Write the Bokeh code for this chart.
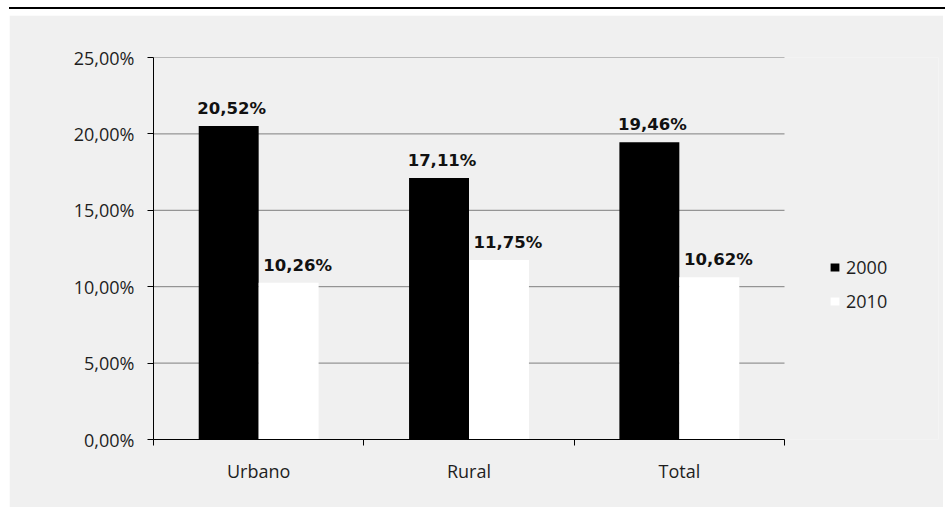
from bokeh.plotting import figure
from bokeh.models import (ColumnDataSource, FixedTicker, LinearAxis, Range1d,
                          Legend, LegendItem, Div, LabelSet)
from bokeh.core.properties import value
from bokeh.layouts import column
from bokeh.transform import dodge
from bokeh.embed import file_html
from bokeh.resources import INLINE

categories = ["Urbano", "Rural", "Total"]
series = ["2000", "2010"]
v2000 = [20.52, 17.11, 19.46]
v2010 = [10.26, 11.75, 10.62]
y_ticks = [0, 5, 10, 15, 20, 25]

def pct(v):
    return f"{v:.2f}".replace(".", ",") + "%"

n = len(categories)
xc = [i + 0.5 for i in range(n)]
src = ColumnDataSource(dict(
    xc=xc, v2000=v2000, v2010=v2010,
    l2000=[pct(v) for v in v2000], l2010=[pct(v) for v in v2010],
))
grid_src = ColumnDataSource(dict(y=y_ticks, x0=[0] * len(y_ticks), x1=[n] * len(y_ticks)))

BG = "#f0f0f0"
FONT = "Open Sans"
TXT = "#1e1e1e"

# frame spans page x 153..938; categories occupy 153..784 (3 units)
x_end = n + (938 - 784) / ((784 - 153) / n)

p = figure(width=934, height=492, x_range=Range1d(0, x_end),
           y_range=Range1d(0, 25), output_backend="svg", toolbar_location=None,
           min_border_left=144, min_border_right=5, min_border_top=42,
           min_border_bottom=68, background_fill_color=BG,
           border_fill_color=BG, outline_line_color=None, margin=(0, 0, 0, 9))
p.xaxis.visible = False
p.yaxis.visible = False
p.xgrid.visible = False
p.ygrid.visible = False

# horizontal gridlines limited to the category area
p.segment(x0="x0", x1="x1", y0="y", y1="y", source=grid_src,
          line_color="#7f7f7f", line_width=1)

bw = 0.285
r1 = p.vbar(x=dodge("xc", -bw / 2, range=p.x_range), top="v2000", width=bw,
            source=src, fill_color="#000000", line_color=None)
r2 = p.vbar(x=dodge("xc", bw / 2, range=p.x_range), top="v2010", width=bw,
            source=src, fill_color="#ffffff", line_color=None)

for col, lab, off, xo in (("v2000", "l2000", -bw / 2, 3), ("v2010", "l2010", bw / 2, 9)):
    ls = LabelSet(x=dodge("xc", off, range=p.x_range), y=col, text=lab, source=src,
                  text_align="center", text_baseline="alphabetic", y_offset=12,
                  x_offset=xo,
                  text_font=value("DejaVu Sans"), text_font_style=value("bold"),
                  text_font_size=value("16.5px"), text_color="#111111")
    p.add_layout(ls)

# y axis
ya = LinearAxis(ticker=FixedTicker(ticks=y_ticks))
ya.major_label_overrides = {t: pct(t) for t in y_ticks}
ya.axis_line_color = "#000000"
ya.major_tick_line_color = "#000000"
ya.major_tick_out = 6
ya.major_tick_in = 0
ya.minor_tick_line_color = None
ya.major_label_standoff = 13
ya.major_label_text_font = FONT
ya.major_label_text_font_size = "18px"
ya.major_label_text_color = TXT
p.add_layout(ya, "left")

# x axis: labels at centres, ticks at boundaries
xa = LinearAxis(ticker=FixedTicker(ticks=xc, minor_ticks=list(range(n + 1))),
                bounds=(0, n))
xa.major_label_overrides = {x: c for x, c in zip(xc, categories)}
xa.axis_line_color = "#000000"
xa.major_tick_line_color = None
xa.major_tick_out = 0
xa.major_tick_in = 0
xa.minor_tick_line_color = "#000000"
xa.minor_tick_out = 6
xa.minor_tick_in = 0
xa.major_label_standoff = 13
xa.major_label_text_font = FONT
xa.major_label_text_font_size = "18px"
xa.major_label_text_color = TXT
p.add_layout(xa, "below")

legend = Legend(items=[LegendItem(label=series[0], renderers=[r1]),
                       LegendItem(label=series[1], renderers=[r2])],
                location=(676, 126), padding=0, margin=0, border_line_color=None,
                background_fill_alpha=0, glyph_width=11, glyph_height=10,
                label_standoff=6, label_height=20, spacing=10,
                label_text_font=FONT, label_text_font_size="18px",
                label_text_color=TXT)
p.add_layout(legend)

top_line = Div(text="", width=936, height=2, margin=(7, 0, 6, 9),
               styles={"background-color": "#000000"})

layout = column(top_line, p, spacing=0, margin=0)
open("out.html", "w").write(file_html(layout, INLINE))
